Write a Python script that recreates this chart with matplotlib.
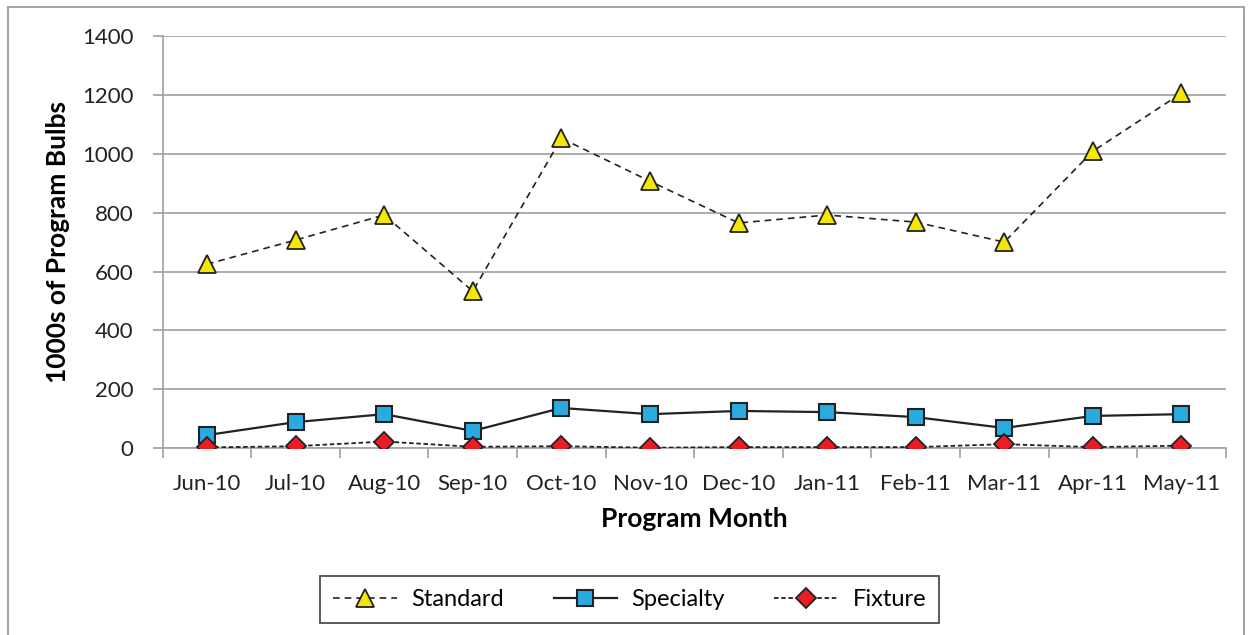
import matplotlib.pyplot as plt
from matplotlib.patches import Rectangle

plt.rcParams['font.family'] = ['Lato', 'DejaVu Sans']

months = ['Jun-10', 'Jul-10', 'Aug-10', 'Sep-10', 'Oct-10', 'Nov-10',
          'Dec-10', 'Jan-11', 'Feb-11', 'Mar-11', 'Apr-11', 'May-11']
standard = [625, 707, 792, 533, 1053, 907, 765, 792, 768, 700, 1009, 1206]
specialty = [44, 88, 115, 58, 136, 115, 126, 122, 105, 68, 109, 115]
fixture = [2, 6, 22, 4, 6, 1, 3, 3, 3, 13, 3, 8]

fig = plt.figure(figsize=(12.52, 6.35), dpi=100)
ax = fig.add_axes([0.130, 0.2945, 0.849, 0.6485])

x = range(len(months))
ax.plot(x, standard, color='#222222', lw=1.2, ls=(0, (4, 3)), marker='^',
        ms=13, mfc='#F5E800', mec='#222222', mew=1.3, label='Standard', zorder=3)
ax.plot(x, specialty, color='#222222', lw=1.6, ls='-', marker='s',
        ms=12, mfc='#29ABE2', mec='#222222', mew=1.5, label='Specialty', zorder=3)
ax.plot(x, fixture, color='#222222', lw=1.3, ls=(0, (2.5, 1.5)), marker='D',
        ms=10, mfc='#ED1C24', mec='#222222', mew=1.3, label='Fixture', zorder=4)

ax.set_xlim(-0.5, len(months) - 0.5)
ax.set_ylim(0, 1400)
ax.set_yticks(range(0, 1401, 200))
ax.set_xticks(list(x))
ax.set_xticklabels(months)
ax.set_xticks([i + 0.5 for i in range(-1, len(months))], minor=True)
ax.tick_params(axis='x', which='major', length=0, labelsize=16, pad=19, colors='#222222')
ax.tick_params(axis='x', which='minor', length=7, color='#A6A6A6', width=1.3)
ax.tick_params(axis='y', length=7, color='#A6A6A6', width=1.3, labelsize=16,
               pad=14, labelcolor='#222222')

ax.grid(axis='y', color='#A6A6A6', lw=1.3)
ax.set_axisbelow(True)
for s in ['top', 'right']:
    ax.spines[s].set_visible(False)
for s in ['left', 'bottom']:
    ax.spines[s].set_color('#A6A6A6')
    ax.spines[s].set_linewidth(1.3)

ax.set_xlabel('Program Month', fontsize=19, fontweight='bold', labelpad=9)
ax.set_ylabel('1000s of Program Bulbs', fontsize=19, fontweight='bold', labelpad=9)

leg = fig.legend(loc='center', bbox_to_anchor=(0.503, 0.056), ncol=3, fontsize=17,
                 frameon=True, fancybox=False, edgecolor='#222222',
                 handlelength=2.7, handletextpad=0.6, columnspacing=2.1, borderpad=0.55)
leg.get_frame().set_linewidth(1.3)

fig.patches.append(Rectangle((0.006, -0.01), 0.988, 0.999, transform=fig.transFigure,
                             fill=False, edgecolor='#A6A6A6', lw=1.5))

fig.savefig('out.png', dpi=100)
